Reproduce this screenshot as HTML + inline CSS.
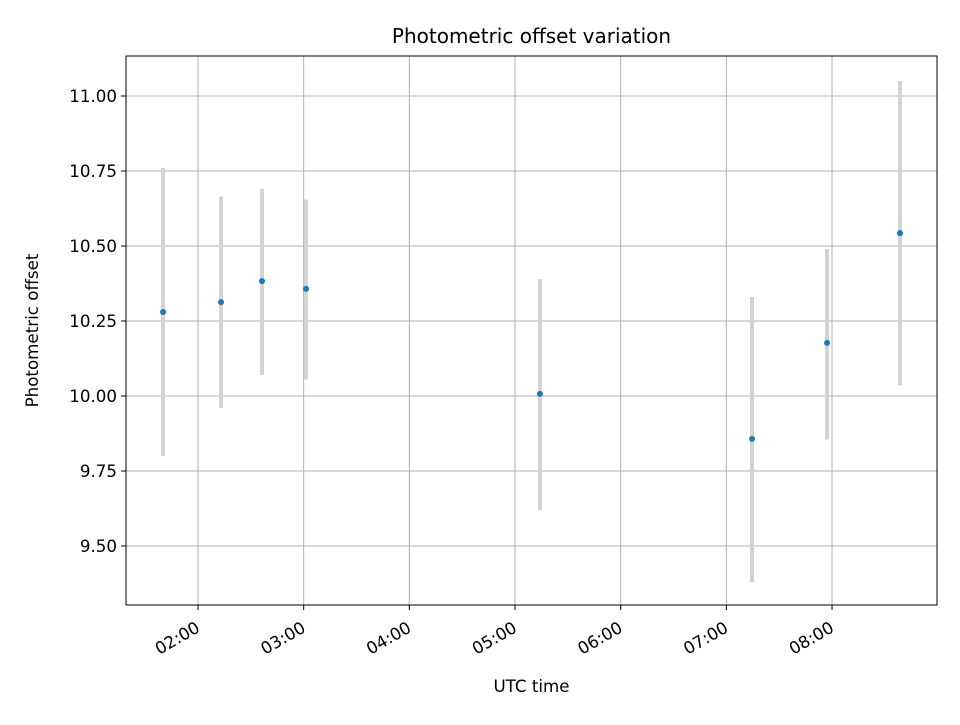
<!DOCTYPE html>
<html><head><meta charset="utf-8"><style>body{margin:0;background:#fff}svg{font-family:"DejaVu Sans","Liberation Sans",sans-serif}</style></head>
<body>
<svg id="chart" width="960" height="720"></svg>
<script>
const times = [1.669, 2.218, 2.606, 3.022, 5.236, 7.243, 7.953, 8.643];
const offsets = [10.28, 10.313, 10.383, 10.357, 10.007, 9.857, 10.177, 10.543];
const lowers = [9.80, 9.96, 10.07, 10.055, 9.62, 9.38, 9.855, 10.035];
const uppers = [10.76, 10.665, 10.69, 10.655, 10.39, 10.33, 10.49, 11.05];
const xTicks = [2, 3, 4, 5, 6, 7, 8];
const xTickLabels = ["02:00","03:00","04:00","05:00","06:00","07:00","08:00"];
const yTicks = [9.5, 9.75, 10, 10.25, 10.5, 10.75, 11];
const yTickLabels = ["9.50","9.75","10.00","10.25","10.50","10.75","11.00"];

const L=126,R=937,T=56,B=605;
const xs=h=>198+(h-2)*105.67;
const ys=v=>96+(11-v)*300;
const svg=document.getElementById('chart');
const NS='http://www.w3.org/2000/svg';
function mk(tag,attrs,name,parent){const e=document.createElementNS(NS,tag);for(const k in attrs)e.setAttribute(k,attrs[k]);


(parent||svg).appendChild(e);return e;}
const grid=mk('g',{},'grid');
xTicks.forEach((t,i)=>{const x=xs(t);
mk('line',{x1:x,x2:x,y1:T,y2:B,stroke:'#b0b0b0','stroke-width':1},'x-gridline',grid);
mk('line',{x1:x,x2:x,y1:B,y2:B+5,stroke:'#000','stroke-width':1},'x-tick');
const ax=x+3, ay=B+26;
const tx=mk('text',{x:ax,y:ay,'font-size':16.7,'text-anchor':'end',transform:`rotate(-30 ${ax} ${ay})`},'x-tick-label');tx.textContent=xTickLabels[i];});
yTicks.forEach((t,i)=>{const y=ys(t);
mk('line',{x1:L,x2:R,y1:y,y2:y,stroke:'#b0b0b0','stroke-width':1},'y-gridline',grid);
mk('line',{x1:L-5,x2:L,y1:y,y2:y,stroke:'#000','stroke-width':1},'y-tick');
const tx=mk('text',{x:L-9,y:y+6,'font-size':16.7,'text-anchor':'end'},'y-tick-label');tx.textContent=yTickLabels[i];});
times.forEach((t,i)=>{const x=xs(t);
mk('line',{x1:x,x2:x,y1:ys(uppers[i]),y2:ys(lowers[i]),stroke:'#d3d3d3','stroke-width':4},'error-bar');});
times.forEach((t,i)=>{mk('circle',{cx:xs(t),cy:ys(offsets[i]),r:3,fill:'#1f77b4'},'data-point');});
mk('rect',{x:L,y:T,width:R-L,height:B-T,fill:'none',stroke:'#000','stroke-width':1},'plot-frame');
let e=mk('text',{x:(L+R)/2,y:43,'font-size':20,'text-anchor':'middle'},'chart-title');e.textContent='Photometric offset variation';
e=mk('text',{x:(L+R)/2,y:692,'font-size':16.7,'text-anchor':'middle'},'x-axis-title');e.textContent='UTC time';
e=mk('text',{x:38,y:(T+B)/2,'font-size':16.7,'text-anchor':'middle',transform:`rotate(-90 38 ${(T+B)/2})`},'y-axis-title');e.textContent='Photometric offset';
</script>
</body></html>
